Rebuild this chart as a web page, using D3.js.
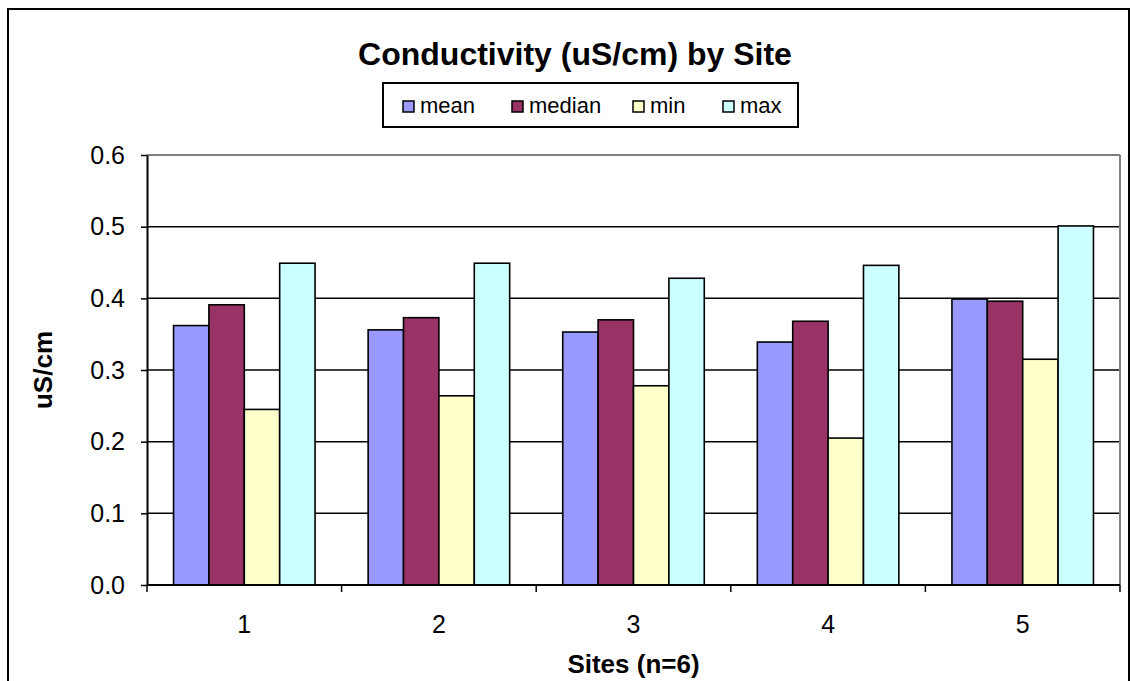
<!DOCTYPE html>
<html>
<head>
<meta charset="utf-8">
<script src="https://cdn.jsdelivr.net/npm/d3@7"></script>
<style>
  body { margin: 0; background: #fff; }
  svg text { font-family: "Liberation Sans", Arial, sans-serif; }
</style>
</head>
<body>
<script>

// data
var sites = ["1", "2", "3", "4", "5"];
var series = ["mean", "median", "min", "max"];
var colors = ["#9999FF", "#993366", "#FFFFCC", "#CCFFFF"];
var meanVals   = [0.362, 0.356, 0.353, 0.339, 0.399];
var medianVals = [0.391, 0.373, 0.370, 0.368, 0.396];
var minVals    = [0.245, 0.264, 0.278, 0.205, 0.315];
var maxVals    = [0.449, 0.449, 0.428, 0.446, 0.501];
var yTicks = [0.0, 0.1, 0.2, 0.3, 0.4, 0.5, 0.6];

var allVals = [meanVals, medianVals, minVals, maxVals];

// plot area (don't call it "top", window.top is read only...)
var par = {w: 1130, h: 681, left: 147, right: 1120, plotTop: 155, plotBottom: 585};

var svg = d3.select("body")
            .append("svg")
            .attr("width", par.w)
            .attr("height", par.h);

// outer chart border
svg.append("rect")
   .attr("x", 8).attr("y", 9)
   .attr("width", 1121).attr("height", 690)
   .style("fill", "white").style("stroke", "black").style("stroke-width", 2);

var y = d3.scaleLinear().domain([0, 0.6]).range([par.plotBottom, par.plotTop]);

var x0 = d3.scaleBand().domain(sites).range([par.left, par.right])
           .paddingInner(0).paddingOuter(0);
var x1 = d3.scaleBand().domain(series).range([0, x0.bandwidth()])
           .paddingInner(0).paddingOuter(0.75);

// gridlines
svg.append("g")
   .selectAll("line")
   .data(yTicks.filter(function(t){ return t > 0 && t < 0.6; }))
   .enter().append("line")
   .attr("x1", par.left).attr("x2", par.right)
   .attr("y1", function(d){ return y(d); })
   .attr("y2", function(d){ return y(d); })
   .style("stroke", "black").style("stroke-width", 1.5);

// plot area frame - grey top and right
svg.append("line")
   .attr("x1", par.left).attr("x2", par.right)
   .attr("y1", par.plotTop).attr("y2", par.plotTop)
   .style("stroke", "#808080").style("stroke-width", 2);
svg.append("line")
   .attr("x1", par.right).attr("x2", par.right)
   .attr("y1", par.plotTop).attr("y2", par.plotBottom)
   .style("stroke", "#808080").style("stroke-width", 2);

// bars
var rows = [];
for (var i = 0; i < sites.length; i++){
  for (var k = 0; k < series.length; k++){
    rows.push({site: sites[i], s: series[k], v: allVals[k][i], c: colors[k]});
  }
}

svg.append("g")
   .selectAll("rect")
   .data(rows)
   .enter().append("rect")
   .attr("x", function(d){ return x0(d.site) + x1(d.s); })
   .attr("y", function(d){ return y(d.v); })
   .attr("width", x1.bandwidth())
   .attr("height", function(d){ return y(0) - y(d.v); })
   .style("fill", function(d){ return d.c; })
   .style("stroke", "black").style("stroke-width", 1.6);

// y axis
var yAxis = svg.append("g")
   .attr("transform", "translate(" + par.left + ",0)")
   .call(d3.axisLeft(y).tickValues(yTicks).tickFormat(d3.format(".1f"))
           .tickSizeInner(6).tickSizeOuter(0).tickPadding(16));
yAxis.select(".domain").style("stroke", "black").style("stroke-width", 2);
yAxis.selectAll(".tick line").style("stroke", "black").style("stroke-width", 1.5);
yAxis.selectAll("text").style("font-size", "25px").style("fill", "black")
     .style("font-family", "'Liberation Sans', Arial, sans-serif");

// x axis - ticks sit between the groups
var xAxis = svg.append("g")
   .attr("transform", "translate(0," + par.plotBottom + ")");
xAxis.append("line")
   .attr("x1", par.left).attr("x2", par.right).attr("y1", 0).attr("y2", 0)
   .style("stroke", "black").style("stroke-width", 2);
var bounds = sites.map(function(s){ return x0(s); }).concat([par.right]);
xAxis.selectAll(".xtick")
   .data(bounds)
   .enter().append("line")
   .attr("class", "xtick")
   .attr("x1", function(d){ return d; }).attr("x2", function(d){ return d; })
   .attr("y1", 0).attr("y2", 7)
   .style("stroke", "black").style("stroke-width", 1.5);
xAxis.selectAll(".xlab")
   .data(sites)
   .enter().append("text")
   .attr("class", "xlab")
   .attr("x", function(d){ return x0(d) + x0.bandwidth()/2; })
   .attr("y", 48)
   .attr("text-anchor", "middle")
   .style("font-size", "25px")
   .text(function(d){ return d; });

// titles
svg.append("text")
   .attr("x", 575).attr("y", 65)
   .attr("text-anchor", "middle")
   .style("font-size", "32px").style("font-weight", "bold")
   .text("Conductivity (uS/cm) by Site");

svg.append("text")
   .attr("x", (par.left + par.right)/2).attr("y", 673)
   .attr("text-anchor", "middle")
   .style("font-size", "26px").style("font-weight", "bold")
   .text("Sites (n=6)");

svg.append("text")
   .attr("transform", "translate(52," + (par.plotTop + par.plotBottom)/2 + ") rotate(-90)")
   .attr("text-anchor", "middle")
   .style("font-size", "26px").style("font-weight", "bold")
   .text("uS/cm");

// legend
var lg = svg.append("g");
lg.append("rect")
  .attr("x", 383).attr("y", 83).attr("width", 415).attr("height", 44)
  .style("fill", "white").style("stroke", "black").style("stroke-width", 2);

var legX = [403, 512, 633, 723];
var items = lg.selectAll(".leg")
  .data(series)
  .enter().append("g")
  .attr("class", "leg")
  .attr("transform", function(d, i){ return "translate(" + legX[i] + ",100)"; });
items.append("rect")
  .attr("x", 0).attr("y", 1).attr("width", 11).attr("height", 11)
  .style("fill", function(d, i){ return colors[i]; })
  .style("stroke", "black").style("stroke-width", 1.5);
items.append("text")
  .attr("x", 17).attr("y", 13)
  .style("font-size", "22px")
  .text(function(d){ return d; });

</script>
</body>
</html>
